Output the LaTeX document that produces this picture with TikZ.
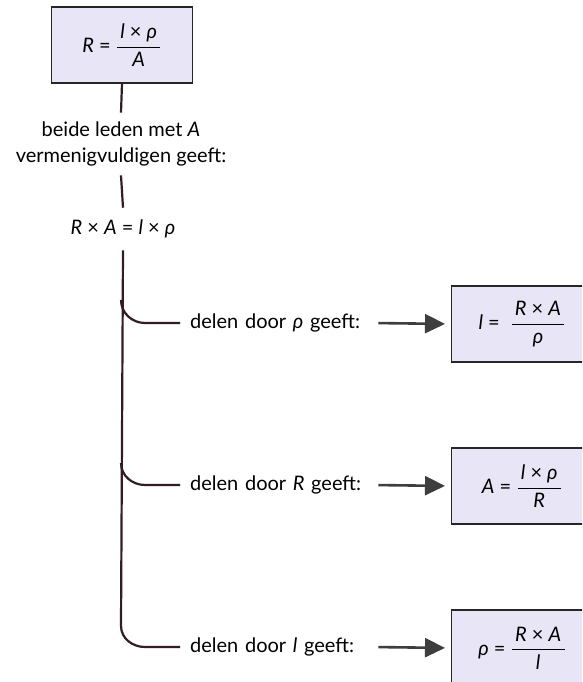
\documentclass[tikz,border=0pt]{standalone}
\usepackage{amsmath}
\usepackage{fontspec}
\setmainfont{Lato}
\usepackage{tikz}
\usetikzlibrary{arrows.meta, positioning}

\definecolor{boxfill}{RGB}{231,229,246}
\definecolor{trunkcol}{RGB}{52,28,38}
\definecolor{arrowcol}{RGB}{62,62,62}

\newcommand{\fr}[2]{\ensuremath{\dfrac{\text{\,#1\,}}{\text{#2}}}}

\tikzset{
  formbox/.style={draw=black!85, line width=1.1pt, fill=boxfill,
    minimum width=141pt, minimum height=76pt, inner sep=0pt},
  trunk/.style={draw=trunkcol, line width=2.2pt},
  branch/.style={anchor=west, inner xsep=10pt, inner ysep=0pt,
    text width=173pt, align=left},
  bigarrow/.style={draw=arrowcol, line width=2.6pt,
    -{Triangle[length=20pt,width=19pt]}, shorten <=5pt, shorten >=6pt}
}

\begin{document}
\begin{tikzpicture}[x=1pt, y=-1pt, font=\fontsize{20}{26}\selectfont]
    \clip (0,0) rectangle (582,682);
    \fill[white] (0,0) rectangle (582,682);

    \node[formbox] (top) at (122,45) {\textit{R} = \fr{\textit{l} × \textit{ρ}}{\textit{A}}};
    \node[align=center, inner xsep=0pt, inner ysep=9pt] (mult) at (121,144)
        {beide leden met \textit{A}\\vermenigvuldigen geeft:};
    \node[inner xsep=0pt, inner ysep=12pt] (eq) at (123,229)
        {\textit{R} × \textit{A} = \textit{l} × \textit{ρ}};

    \coordinate (b1) at (121,300);
    \coordinate (b2) at (121,463);
    \coordinate (b3) at (121,626);

    \node[branch] (lab1) at (180,323) {delen door \textit{ρ} geeft:};
    \node[branch] (lab2) at (180,485) {delen door \textit{R} geeft:};
    \node[branch] (lab3) at (180,647) {delen door \textit{l} geeft:};

    \node[formbox, anchor=west] (res1) at (451,324)
        {\textit{l} = \;\fr{\textit{R} × \textit{A}}{\textit{ρ}}};
    \node[formbox, anchor=west] (res2) at (451,486)
        {\textit{A} = \fr{\textit{l} × \textit{ρ}}{\textit{R}}};
    \node[formbox, anchor=west] (res3) at (451,648)
        {\textit{ρ} = \fr{\textit{R} × \textit{A}}{\textit{l}}};

    \draw[trunk] (top.south) -- (mult.north);
    \draw[trunk] (mult.south) -- (eq.north);
    \draw[trunk] (eq.south) -- (b3) to[out=-90, in=180] ++(24,21) -- (lab3.west);
    \draw[trunk] (b1) to[out=-90, in=180] ++(24,23) -- (lab1.west);
    \draw[trunk] (b2) to[out=-90, in=180] ++(24,22) -- (lab2.west);

    \draw[bigarrow] (lab1.east) -- (res1.west);
    \draw[bigarrow] (lab2.east) -- (res2.west);
    \draw[bigarrow] (lab3.east) -- (res3.west);
\end{tikzpicture}
\end{document}
